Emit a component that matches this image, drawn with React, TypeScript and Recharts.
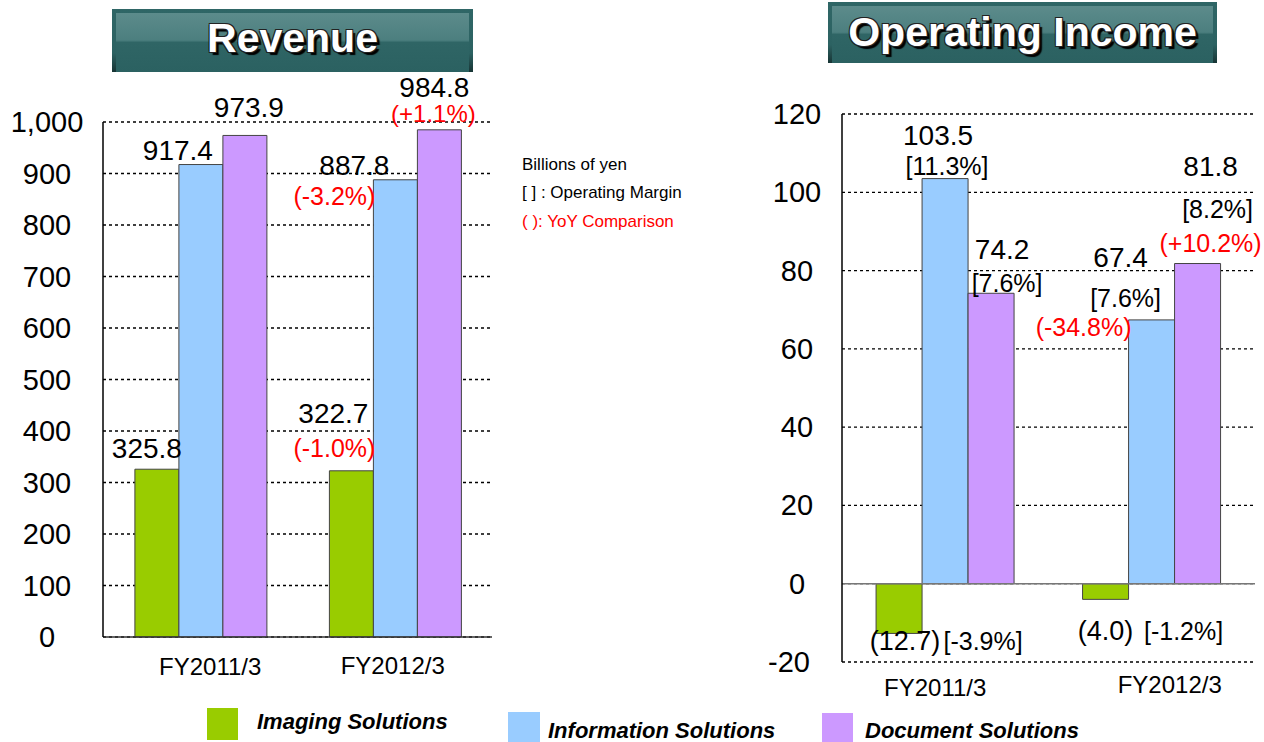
import React from 'react'
import { BarChart, Bar, XAxis, YAxis, CartesianGrid, LabelList, ReferenceLine } from 'recharts'

const categories = ['FY2011/3', 'FY2012/3']
const seriesNames = ['Imaging Solutions', 'Information Solutions', 'Document Solutions']
const seriesColors = ['#99cc00', '#99ccff', '#cc99ff']

// Revenue (billions of yen)
const revImaging = [325.8, 322.7]
const revInformation = [917.4, 887.8]
const revDocument = [973.9, 984.8]
const revImagingYoy = ['', '(-1.0%)']
const revInformationYoy = ['', '(-3.2%)']
const revDocumentYoy = ['', '(+1.1%)']
const revTicks = [0, 100, 200, 300, 400, 500, 600, 700, 800, 900, 1000]

// Operating income (billions of yen)
const opImaging = [-12.7, -4.0]
const opInformation = [103.5, 67.4]
const opDocument = [74.2, 81.8]
const opImagingMargin = ['[-3.9%]', '[-1.2%]']
const opInformationMargin = ['[11.3%]', '[7.6%]']
const opDocumentMargin = ['[7.6%]', '[8.2%]']
const opInformationYoy = ['', '(-34.8%)']
const opDocumentYoy = ['', '(+10.2%)']
const opTicks = [-20, 0, 20, 40, 60, 80, 100, 120]

const notes = ['Billions of yen', '[ ] : Operating Margin', '( ): YoY Comparison']

const FONT = "'Liberation Sans', Arial, sans-serif"
const RED = '#ff0000'

const revData = categories.map((name, i) => ({
  name,
  imaging: revImaging[i],
  information: revInformation[i],
  document: revDocument[i]
}))

const opData = categories.map((name, i) => ({
  name,
  imaging: opImaging[i],
  information: opInformation[i],
  document: opDocument[i]
}))

const fmtValue = (v: number) => (v < 0 ? `(${Math.abs(v).toFixed(1)})` : v.toFixed(1))

type LineSpec = { texts: string[]; pos: [number, number][]; size: number; color: string }

// label lines are placed relative to the centre of the bar end
function barLabels(values: number[], lines: LineSpec[]) {
  return (props: any) => {
    const vb = props.viewBox || props
    const x = vb.x ?? props.x
    const y = vb.y ?? props.y
    const w = vb.width ?? props.width
    const h = vb.height ?? props.height
    const index = props.index ?? 0
    const v = values[index]
    const cx = x + w / 2
    const end = v >= 0 ? Math.min(y, y + h) : Math.max(y, y + h)
    return (
      <g>
        {lines.map((ln, k) =>
          ln.texts[index] ? (
            <text
              key={k}
              x={cx + ln.pos[index][0]}
              y={end + ln.pos[index][1]}
              textAnchor="middle"
              dominantBaseline="central"
              fontSize={ln.size}
              fill={ln.color}
              fontFamily={FONT}
            >
              {ln.texts[index]}
            </text>
          ) : null
        )}
      </g>
    )
  }
}

const yTick = (shift: number, fmt: (v: number) => string) => (p: any) => (
  <text
    x={p.x - shift - (p.payload.value < 0 ? 8 : 0)}
    y={p.y}
    textAnchor="middle"
    dominantBaseline="central"
    fontSize={29}
    fill="#000"
    fontFamily={FONT}
  >
    {fmt(p.payload.value)}
  </text>
)

const xTick = (dxs: number[], dys: number[]) => (p: any) => (
  <text
    x={p.x + dxs[p.index ?? 0]}
    y={p.y + dys[p.index ?? 0]}
    textAnchor="middle"
    dominantBaseline="central"
    fontSize={24}
    fill="#000"
    fontFamily={FONT}
  >
    {p.payload.value}
  </text>
)

function TitleBox({ text, left, top, width, height, pad }: any) {
  return (
    <div
      style={{
        position: 'absolute',
        left,
        top,
        width,
        height,
        background: 'linear-gradient(to bottom, #2f6666 0%, #2c6262 70%, #173434 100%)'
      }}
    >
      <div
        style={{
          position: 'absolute',
          left: 4,
          right: 4,
          top: 4,
          bottom: 0,
          background:
            'linear-gradient(to bottom, #5c8b8b 0%, #4c7f7f 46%, #2f6565 50%, #2b6161 100%)',
          display: 'flex',
          alignItems: 'center',
          justifyContent: 'center',
          paddingBottom: pad,
          boxSizing: 'border-box'
        }}
      >
        <span
          style={{
            fontFamily: FONT,
            fontWeight: 'bold',
            fontSize: 41,
            color: '#fff',
            textShadow:
              '-1px -1px 0 #222, 1px -1px 0 #222, -1px 1px 0 #222, 1px 1px 0 #222, 3px 3px 1px #000'
          }}
        >
          {text}
        </span>
      </div>
    </div>
  )
}

function RevenueChart() {
  return (
    <div style={{ position: 'absolute', left: 0, top: 0 }}>
      <BarChart
        width={520}
        height={700}
        data={revData}
        margin={{ top: 122, right: 28, left: 0, bottom: 0 }}
        barCategoryGap="16.4%"
        barGap={0}
      >
        <CartesianGrid vertical={false} stroke="#000" strokeWidth={1.3} strokeDasharray="3 3" />
        <XAxis
          dataKey="name"
          height={63}
          tickSize={0}
          tickMargin={0}
          axisLine={{ stroke: '#333', strokeWidth: 1.5 }}
          tickLine={false}
          tick={xTick([10, -2], [29, 28])}
        />
        <YAxis
          width={103}
          domain={[0, 1000]}
          ticks={revTicks}
          tickSize={0}
          tickMargin={0}
          tickLine={false}
          axisLine={{ stroke: '#000', strokeWidth: 1.5 }}
          tick={yTick(56, (v) => v.toLocaleString('en-US'))}
        />
        <YAxis
          yAxisId="border"
          orientation="right"
          width={0}
          domain={[0, 1000]}
          tick={false}
          tickLine={false}
          axisLine={{ stroke: '#888', strokeWidth: 1.5 }}
        />
        <Bar dataKey="imaging" fill={seriesColors[0]} stroke="#444" strokeWidth={1} isAnimationActive={false}>
          <LabelList
            dataKey="imaging"
            content={barLabels(revImaging, [
              { texts: revImaging.map(fmtValue), pos: [[-10, -21], [-18, -57]], size: 28, color: '#000' },
              { texts: revImagingYoy, pos: [[0, 0], [-17, -23]], size: 25, color: RED }
            ])}
          />
        </Bar>
        <Bar dataKey="information" fill={seriesColors[1]} stroke="#444" strokeWidth={1} isAnimationActive={false}>
          <LabelList
            dataKey="information"
            content={barLabels(revInformation, [
              { texts: revInformation.map(fmtValue), pos: [[-23, -14], [-41, -14]], size: 28, color: '#000' },
              { texts: revInformationYoy, pos: [[0, 0], [-61, 16]], size: 25, color: RED }
            ])}
          />
        </Bar>
        <Bar dataKey="document" fill={seriesColors[2]} stroke="#444" strokeWidth={1} isAnimationActive={false}>
          <LabelList
            dataKey="document"
            content={barLabels(revDocument, [
              { texts: revDocument.map(fmtValue), pos: [[4, -28], [-5, -42]], size: 28, color: '#000' },
              { texts: revDocumentYoy, pos: [[0, 0], [-6, -16]], size: 24, color: RED }
            ])}
          />
        </Bar>
      </BarChart>
    </div>
  )
}

function IncomeChart() {
  return (
    <div style={{ position: 'absolute', left: 740, top: 0 }}>
      <BarChart
        width={524}
        height={742}
        data={opData}
        margin={{ top: 114, right: 9, left: 0, bottom: 40 }}
        barCategoryGap="16.5%"
        barGap={0}
      >
        <CartesianGrid vertical={false} stroke="#000" strokeWidth={1.3} strokeDasharray="3 3" />
        <XAxis
          dataKey="name"
          height={40}
          tickSize={0}
          tickMargin={0}
          axisLine={false}
          tickLine={false}
          tick={xTick([-10, 18], [25, 22])}
        />
        <YAxis
          width={102}
          domain={[-20, 120]}
          ticks={opTicks}
          tickSize={0}
          tickMargin={0}
          tickLine={false}
          axisLine={{ stroke: '#000', strokeWidth: 1.5 }}
          tick={yTick(45, (v) => String(v))}
        />
        <YAxis
          yAxisId="border"
          orientation="right"
          width={0}
          domain={[-20, 120]}
          tick={false}
          tickLine={false}
          axisLine={{ stroke: '#888', strokeWidth: 1.5 }}
        />
        <Bar dataKey="imaging" fill={seriesColors[0]} stroke="#444" strokeWidth={1} isAnimationActive={false}>
          <LabelList
            dataKey="imaging"
            content={barLabels(opImaging, [
              { texts: opImaging.map(fmtValue), pos: [[6, 8], [0, 32]], size: 27, color: '#000' },
              { texts: opImagingMargin, pos: [[84, 8], [78, 32]], size: 25, color: '#000' }
            ])}
          />
        </Bar>
        <Bar dataKey="information" fill={seriesColors[1]} stroke="#444" strokeWidth={1} isAnimationActive={false}>
          <LabelList
            dataKey="information"
            content={barLabels(opInformation, [
              { texts: opInformation.map(fmtValue), pos: [[-7, -43], [-31, -62]], size: 28, color: '#000' },
              { texts: opInformationMargin, pos: [[2, -13], [-26, -22]], size: 25, color: '#000' },
              { texts: opInformationYoy, pos: [[0, 0], [-68, 7]], size: 25, color: RED }
            ])}
          />
        </Bar>
        <Bar dataKey="document" fill={seriesColors[2]} stroke="#444" strokeWidth={1} isAnimationActive={false}>
          <LabelList
            dataKey="document"
            content={barLabels(opDocument, [
              { texts: opDocument.map(fmtValue), pos: [[11, -44], [13, -97]], size: 28, color: '#000' },
              { texts: opDocumentMargin, pos: [[16, -10], [20, -55]], size: 25, color: '#000' },
              { texts: opDocumentYoy, pos: [[0, 0], [13, -21]], size: 25, color: RED }
            ])}
          />
        </Bar>
        <ReferenceLine y={0} stroke="#777" strokeWidth={1.5} />
      </BarChart>
    </div>
  )
}

// legend swatch boxes and text starts, page coordinates
const legendLayout = [
  { sq: [207, 708, 31, 32], tx: [257, 722] },
  { sq: [508, 712, 32, 30], tx: [548, 731] },
  { sq: [822, 713, 31, 29], tx: [865, 731] }
]

export default function App() {
  return (
    <div
      style={{
        position: 'absolute',
        left: 0,
        top: 0,
        width: 1264,
        height: 742,
        background: '#fff',
        overflow: 'hidden',
        fontFamily: FONT
      }}
    >
      <RevenueChart />
      <IncomeChart />
      <TitleBox text="Revenue" left={112} top={9} width={361} height={63} pad={8} />
      <TitleBox text="Operating Income" left={828} top={2} width={389} height={61} pad={4} />

      {notes.map((t, i) => (
        <div
          key={t}
          style={{
            position: 'absolute',
            left: 522,
            top: [165, 193, 222][i] - 11,
            height: 22,
            lineHeight: '22px',
            fontSize: 17,
            color: i === 2 ? RED : '#000',
            whiteSpace: 'nowrap'
          }}
        >
          {t}
        </div>
      ))}

      {seriesNames.map((name, i) => {
        const l = legendLayout[i]
        return (
          <React.Fragment key={name}>
            <div
              style={{
                position: 'absolute',
                left: l.sq[0],
                top: l.sq[1],
                width: l.sq[2],
                height: l.sq[3],
                background: seriesColors[i]
              }}
            />
            <div
              style={{
                position: 'absolute',
                left: l.tx[0],
                top: l.tx[1] - 14,
                height: 28,
                lineHeight: '28px',
                fontSize: 22,
                fontWeight: 'bold',
                fontStyle: 'italic',
                whiteSpace: 'nowrap'
              }}
            >
              {name}
            </div>
          </React.Fragment>
        )
      })}
    </div>
  )
}
